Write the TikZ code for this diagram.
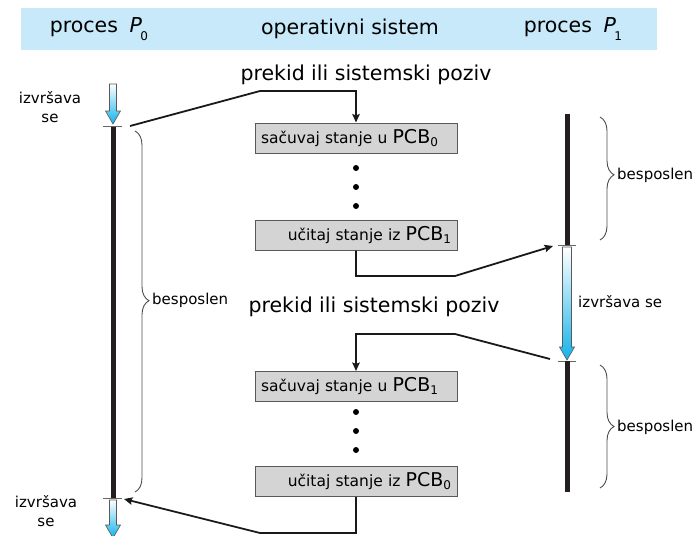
\documentclass[tikz,border=0pt]{standalone}
\usepackage{fontspec}
\setmainfont{DejaVu Sans}
\usetikzlibrary{arrows.meta,decorations.pathreplacing,calc}

% small lowered index (subscript) in a given size
\newcommand\idx[3][-0.35ex]{\raisebox{#1}{\fontsize{#2}{#2}\selectfont #3}}
% vertical "running" arrow with a white-to-cyan gradient: x, top y, tip y, shaft half width
\newcommand\runarrow[4]{%
  \path[runfill]
    (#1-#4,#2) -- (#1+#4,#2) -- (#1+#4,#3-13) -- (#1+7.5,#3-13) -- (#1,#3)
    -- (#1-7.5,#3-13) -- (#1-#4,#3-13) -- cycle;}

\definecolor{band}{HTML}{C7E9F9}
\definecolor{runcyan}{HTML}{12B2EA}
\definecolor{boxgray}{HTML}{D4D4D4}
\definecolor{bar}{HTML}{231F20}

\begin{document}
\begin{tikzpicture}[x=1pt,y=-1pt,
  conn/.style={draw=black!90, line width=1.8pt},
  arr/.style={conn, -{Stealth[length=8.5pt,width=7.5pt,inset=1.5pt]}},
  osbox/.style={draw=black!65, fill=boxgray, line width=1pt,
    minimum width=202pt, minimum height=30pt, inner xsep=6pt,
    text width=190pt, font=\fontsize{15.5}{18}\selectfont},
  lbl/.style={font=\fontsize{15}{19}\selectfont, inner sep=0pt},
  big/.style={font=\fontsize{20.5}{24}\selectfont, inner sep=0pt},
  tick/.style={draw=gray!80!black, line width=0.9pt},
  idle/.style={draw=bar, line width=5pt},
  runfill/.style={top color=white, bottom color=runcyan, draw=gray!70!black, line width=0.6pt},
  brc/.style={draw=gray!60!black, line width=0.9pt, decorate,
    decoration={brace, amplitude=14pt, aspect=#1}},
]
\useasboundingbox (0,0) rectangle (700,535);
\clip (0,0) rectangle (700,535);

% header band
\fill[band] (21,8) rectangle (657,50);
\node[big] (h0) at (99,29) {proces\hspace{0.25em} \textit{P}\kern-1.5pt\idx[-0.7ex]{12}{0}};
\node[big] (hos) at (350,29) {operativni sistem};
\node[big] (h1) at (573,29) {proces\hspace{0.25em} \textit{P}\kern-1.5pt\idx[-0.7ex]{12}{1}};

% process P0 time line
\runarrow{113}{84}{124}{3.5}
\draw[idle] (113,126) -- (113,498);
\draw[tick] (103,126) -- (122,126);
\draw[tick] (103,498) -- (122,498);
\runarrow{113}{500}{538}{3.5}
\node[lbl, align=center] (run0a) at (50,107) {izvršava\\se};
\node[lbl, align=center] (run0b) at (46,511) {izvršava\\se};
\draw[brc=0.47] (135,131) -- (135,492);
\node[lbl, anchor=west] (idle0) at (152,300) {besposlen};

% process P1 time line
\draw[idle] (567,114) -- (567,245);
\draw[tick] (558,245) -- (576,245);
\runarrow{567}{247}{360}{4.5}
\draw[tick] (558,361) -- (576,361);
\draw[idle] (567,361) -- (567,492);
\node[lbl, anchor=west] (run1) at (578,302) {izvršava se};
\draw[brc=0.47] (600,117) -- (600,240);
\node[lbl, anchor=west] (idle1a) at (617,175) {besposlen};
\draw[brc=0.5] (600,365) -- (600,488);
\node[lbl, anchor=west] (idle1b) at (617,427) {besposlen};

% operating system steps
\node[big] (int1) at (366,75) {prekid ili sistemski poziv};
\node[osbox, align=left] (b1) at (356,138)
  {sačuvaj stanje u {\fontsize{19}{19}\selectfont PCB}\idx{12}{0}};
\fill (356,168) circle (3pt) (356,187) circle (3pt) (356,206) circle (3pt);
\node[osbox, align=right] (b2) at (356,235)
  {učitaj stanje iz {\fontsize{19}{19}\selectfont PCB}\idx{12}{1}};

\node[big] (int2) at (374,307) {prekid ili sistemski poziv};
\node[osbox, align=left] (b3) at (356,386.5)
  {sačuvaj stanje u {\fontsize{19}{19}\selectfont PCB}\idx{12}{1}};
\fill (356,412) circle (3pt) (356,431) circle (3pt) (356,450) circle (3pt);
\node[osbox, align=right] (b4) at (356,481.5)
  {učitaj stanje iz {\fontsize{19}{19}\selectfont PCB}\idx{12}{0}};

% control transfers
\coordinate (c1) at (130,126);
\coordinate (k1) at (260,91);
\draw[arr] (c1) -- (k1) -| (b1.north);

\coordinate (k2) at (455,276);
\coordinate (t1) at (553,246);
\draw[arr] (b2.south) |- (k2) -- (t1);

\coordinate (t2) at (550,359);
\coordinate (k3) at (455,334);
\draw[arr] (t2) -- (k3) -| (b3.north);

\coordinate (k4) at (260,533);
\coordinate (t3) at (124,499);
\draw[arr] (b4.south) |- (k4) -- (t3);
\end{tikzpicture}
\end{document}
